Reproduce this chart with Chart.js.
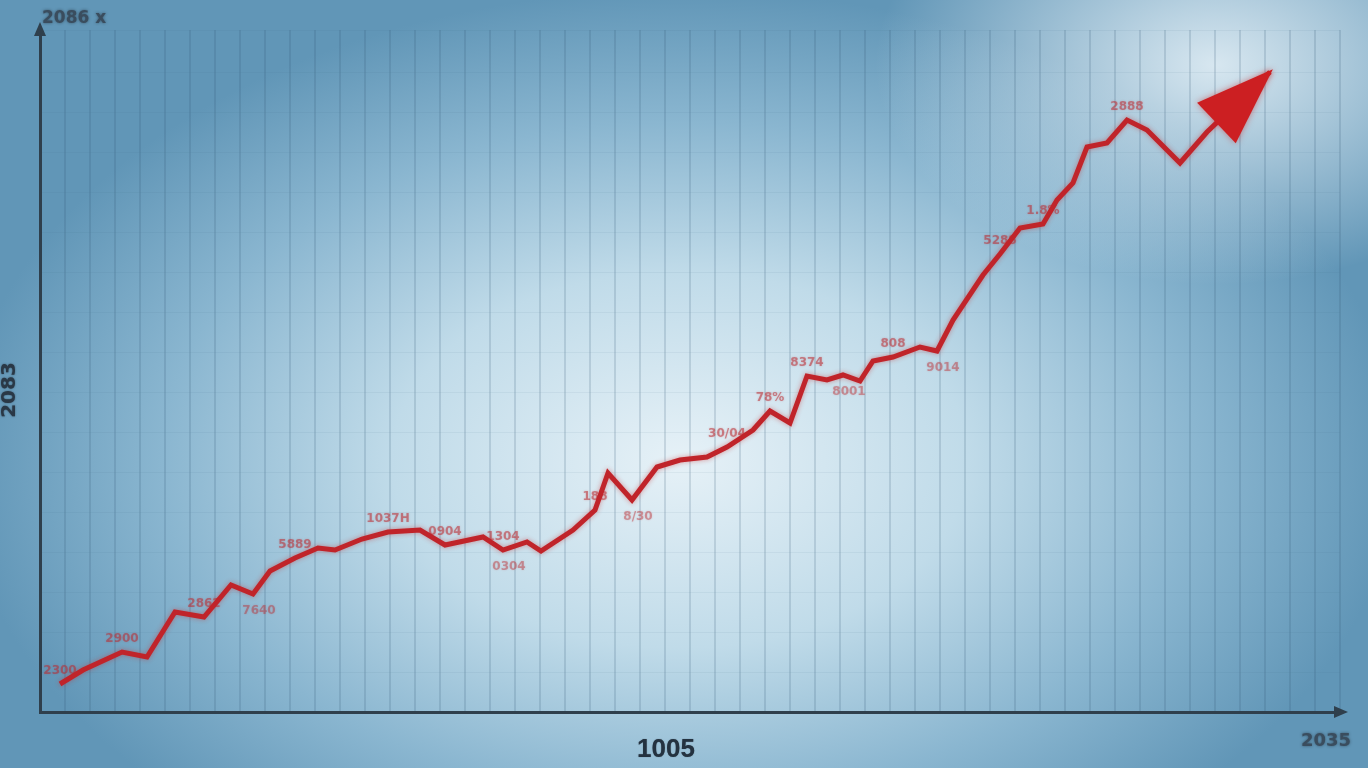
<!DOCTYPE html>
<html>
<head>
<meta charset="utf-8">
<script src="https://cdn.jsdelivr.net/npm/chart.js@4"></script>
<style>
  html, body { margin: 0; padding: 0; }
  body {
    width: 1368px; height: 768px; overflow: hidden;
    background:
      radial-gradient(ellipse 340px 220px at 1215px 65px, rgba(236,245,250,0.85), rgba(236,245,250,0) 100%),
      radial-gradient(ellipse 720px 470px at 680px 460px, #e6f1f7 0%, #c0dbe9 40%, #8ab6d0 72%, #6196b7 100%);
    background-color: #6196b7;
  }
  #chart { display: block; }
</style>
</head>
<body>
<canvas id="chart" width="1368" height="768"></canvas>
<script>
// line points (x position, value)
const xs = [2.0, 4.3, 8.2, 10.7, 13.5, 16.4, 19.1, 21.3, 23.0, 25.5, 27.8, 29.5, 32.2, 34.8, 38.0, 40.5, 44.3, 46.3, 48.7, 50.1,
            53.3, 55.5, 56.8, 59.2, 61.7, 64.0, 66.7, 68.7, 71.3, 73.0, 75.0, 76.7, 78.7, 80.3, 82.0, 83.3, 85.3, 88.0, 89.7, 91.3,
            94.3, 96.0, 98.0, 100.3, 101.7, 103.3, 104.7, 106.7, 108.7, 110.7, 114.0, 116.7, 123.0];
const ys = [2.8, 4.2, 6.0, 5.5, 10.0, 9.5, 12.7, 11.8, 14.1, 15.4, 16.4, 16.2, 17.3, 18.0, 18.2, 16.7, 17.5, 16.2, 17.0, 16.1,
            18.2, 20.2, 23.9, 21.2, 24.5, 25.2, 25.5, 26.5, 28.2, 30.1, 28.9, 33.6, 33.2, 33.7, 33.1, 35.1, 35.5, 36.5, 36.1, 39.2,
            43.7, 45.8, 48.4, 48.8, 51.2, 52.9, 56.5, 56.9, 59.2, 58.2, 54.9, 58.0, 64.0];

// small notes next to some points: [point index, text]
const notesAbove = [[0, '2300'], [2, '2900'], [5, '2862'], [9, '5889'], [13, '1037H'], [15, '0904'], [17, '1304'],
                    [21, '188'], [27, '30/04'], [29, '78%'], [31, '8374'], [36, '808'], [41, '5288'], [43, '1.8%'], [48, '2888']];
const notesBelow = [[7, '7640'], [17, '0304'], [23, '8/30'], [33, '8001'], [38, '9014']];

// axis texts
const topLabel = '2086 x';
const yTitle = '2083';
const xTitle = '1005';
const xEndLabel = '2035';

const xMax = 130;
const yMax = 68.2;

const points = xs.map((x, i) => ({ x: x, y: ys[i] }));

const decor = {
  id: 'decor',
  beforeDatasetsDraw(chart) {
    const c = chart.ctx;
    const sx = chart.scales.x, sy = chart.scales.y;
    c.save();
    c.font = 'bold 12px "DejaVu Sans"';
    c.textAlign = 'center';
    c.shadowColor = 'rgba(190,40,45,0.5)';
    c.shadowBlur = 2;
    c.fillStyle = 'rgba(185,40,45,0.5)';
    notesAbove.forEach(n => {
      c.fillText(n[1], sx.getPixelForValue(xs[n[0]]), sy.getPixelForValue(ys[n[0]]) - 10);
    });
    c.fillStyle = 'rgba(185,40,45,0.4)';
    notesBelow.forEach(n => {
      c.fillText(n[1], sx.getPixelForValue(xs[n[0]]) + 6, sy.getPixelForValue(ys[n[0]]) + 20);
    });
    c.restore();
  },
  beforeDatasetDraw(chart) {
    chart.ctx.save();
    chart.ctx.shadowColor = 'rgba(200,40,40,0.45)';
    chart.ctx.shadowBlur = 5;
  },
  afterDatasetDraw(chart) {
    chart.ctx.restore();
  },
  afterDatasetsDraw(chart) {
    const c = chart.ctx, a = chart.chartArea;
    const sx = chart.scales.x, sy = chart.scales.y;
    const n = xs.length;
    // arrow head at end of line
    const tx = sx.getPixelForValue(xs[n - 1]), ty = sy.getPixelForValue(ys[n - 1]);
    const px = sx.getPixelForValue(xs[n - 2]), py = sy.getPixelForValue(ys[n - 2]);
    const len = Math.hypot(tx - px, ty - py);
    const ux = (tx - px) / len, uy = (ty - py) / len;
    const hl = 74, hw = 28;
    const bx = tx - ux * hl, by = ty - uy * hl;
    c.save();
    c.shadowColor = 'rgba(200,30,30,0.5)';
    c.shadowBlur = 6;
    c.fillStyle = '#cc1f22';
    c.beginPath();
    c.moveTo(tx + ux * 4, ty + uy * 4);
    c.lineTo(bx - uy * hw, by + ux * hw);
    c.lineTo(bx + uy * hw, by - ux * hw);
    c.closePath();
    c.fill();
    c.restore();

    // axis arrows
    c.save();
    c.fillStyle = '#2f3f4c';
    c.beginPath();
    c.moveTo(a.left, a.top - 8);
    c.lineTo(a.left - 6, a.top + 6);
    c.lineTo(a.left + 6, a.top + 6);
    c.closePath();
    c.fill();
    c.beginPath();
    c.moveTo(a.right + 8, a.bottom);
    c.lineTo(a.right - 6, a.bottom - 6);
    c.lineTo(a.right - 6, a.bottom + 6);
    c.closePath();
    c.fill();

    // texts
    c.shadowColor = 'rgba(30,40,50,0.6)';
    c.shadowBlur = 3;
    c.fillStyle = '#3a4d5e';
    c.font = 'bold 17px "DejaVu Sans"';
    c.textAlign = 'left';
    c.textBaseline = 'middle';
    c.fillText(topLabel, a.left + 2, 19);
    c.shadowBlur = 1;
    c.fillStyle = '#243240';
    c.font = 'bold 26px "Liberation Sans"';
    c.textAlign = 'center';
    c.fillText(xTitle, 666, 750);
    c.shadowBlur = 3;
    c.fillStyle = '#3a4d5e';
    c.font = 'bold 18px "DejaVu Sans"';
    c.fillText(xEndLabel, 1326, 741);
    c.save();
    c.translate(10, 390);
    c.rotate(-Math.PI / 2);
    c.shadowBlur = 2;
    c.font = 'bold 20px "DejaVu Sans"';
    c.fillStyle = '#2a3846';
    c.fillText(yTitle, 0, 0);
    c.restore();
    c.restore();
  }
};

const ctx = document.getElementById('chart');

const myChart = new Chart(ctx, {
  type: 'line',
  data: {
    datasets: [{
      data: points,
      borderColor: '#c0242a',
      borderWidth: 5,
      pointRadius: 0,
      tension: 0,
      borderJoinStyle: 'miter',
      borderCapStyle: 'butt'
    }]
  },
  options: {
    responsive: false,
    animation: false,
    events: [],
    layout: { padding: { left: 40, right: 28, top: 30, bottom: 56 } },
    plugins: { legend: { display: false }, tooltip: { enabled: false } },
    scales: {
      x: {
        type: 'linear',
        min: 0,
        max: xMax,
        ticks: { display: false, stepSize: 2.5 },
        grid: { color: 'rgba(45,85,115,0.17)', lineWidth: 2, drawTicks: false },
        border: { color: '#2f3f4c', width: 3 }
      },
      y: {
        min: 0,
        max: yMax,
        ticks: { display: false, stepSize: 4 },
        grid: { color: 'rgba(60,100,130,0.07)', lineWidth: 1, drawTicks: false },
        border: { color: '#2f3f4c', width: 3 }
      }
    }
  },
  plugins: [decor]
});
</script>
</body>
</html>
